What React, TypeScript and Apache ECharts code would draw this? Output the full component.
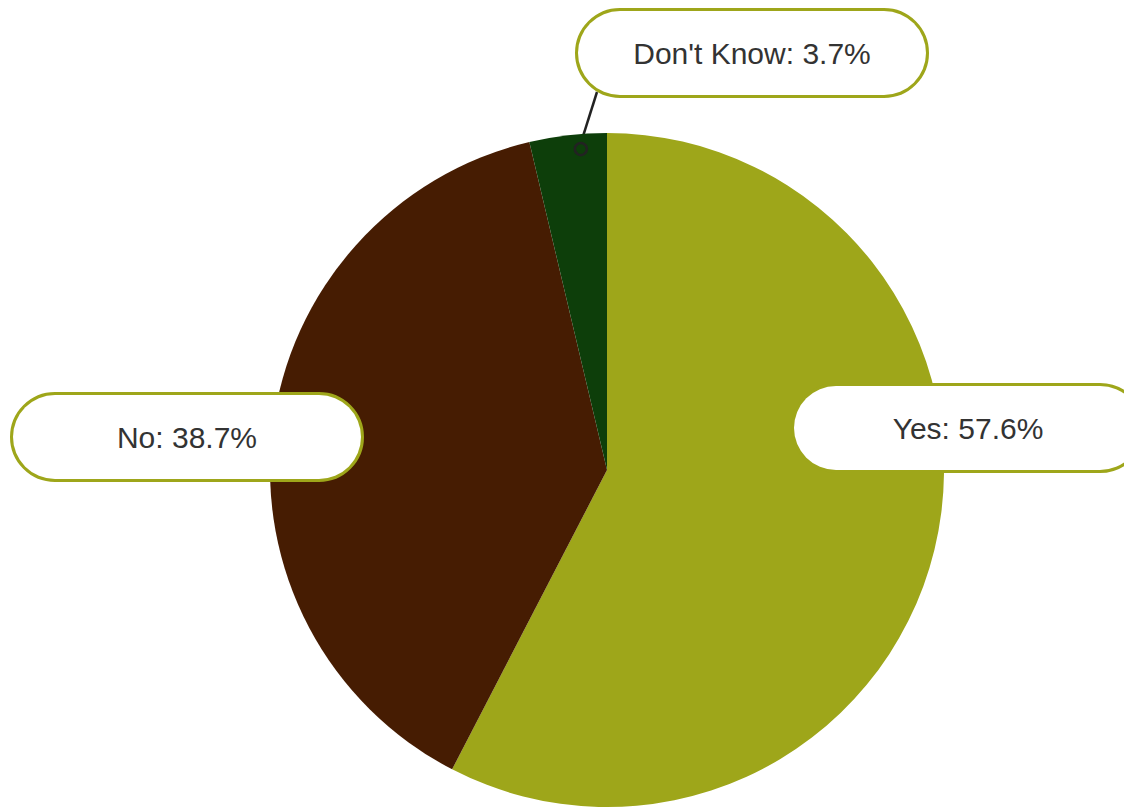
import React, { useEffect, useRef } from "react";
import * as echarts from "echarts";

const categories = ["Yes", "No", "Don't Know"];
const values = [57.6, 38.7, 3.7];
const colors = ["#9ea61a", "#461c02", "#0d3e0a"];

const CENTER = [607, 470];
const RADIUS = 337;
const labelCenters = [
  [968, 428],
  [187, 437],
  [752, 53],
];
const lineEnd = [597, 92];

export default function App() {
  const ref = useRef<HTMLDivElement>(null);
  useEffect(() => {
    document.body.style.margin = "0";
    if (!ref.current) return;
    const chart = echarts.init(ref.current, undefined, { renderer: "svg" });

    const total = values.reduce((a, b) => a + b, 0);
    const startFrac = (values[0] + values[1]) / total;
    const endFrac = 1;
    const frac = startFrac + (endFrac - startFrac) * 0.65;
    const ang = ((90 - frac * 360) * Math.PI) / 180;
    const rA = RADIUS - 15;
    const ax = CENTER[0] + rA * Math.cos(ang);
    const ay = CENTER[1] - rA * Math.sin(ang);

    chart.setOption({
      animation: false,
      backgroundColor: "#ffffff",
      graphic: [
        {
          type: "circle",
          z: 100,
          zlevel: 1,
          shape: { cx: ax, cy: ay, r: 6 },
          style: { fill: "#0d3e0a", stroke: "#222222", lineWidth: 2.5 },
        },
      ],
      series: [
        {
          type: "pie",
          center: CENTER,
          radius: RADIUS,
          startAngle: 90,
          clockwise: true,
          avoidLabelOverlap: false,
          itemStyle: { borderWidth: 0 },
          label: {
            show: true,
            position: "outside",
            formatter: "{b}: {c}%",
            fontFamily: "Liberation Sans",
            fontSize: 30,
            lineHeight: 32,
            color: "#333333",
            backgroundColor: "#ffffff",
            borderColor: "#9ea61a",
            borderWidth: 3,
            borderRadius: 43,
            padding: [26, 0],
            width: 348,
            align: "center",
          },
          labelLine: {
            show: true,
            lineStyle: { color: "#222222", width: 2.5 },
          },
          labelLayout: (params: any) => {
            const i = params.dataIndex;
            const c = labelCenters[i];
            const res: any = {
              x: c[0],
              y: c[1],
              align: "center",
              verticalAlign: "middle",
            };
            if (i === 2) {
              res.labelLinePoints = [
                [ax, ay - 6],
                [lineEnd[0], lineEnd[1]],
              ];
            }
            return res;
          },
          data: categories.map((name, i) => ({
            name,
            value: values[i],
            itemStyle: { color: colors[i] },
            labelLine: { show: i === 2 },
          })),
        },
      ],
    });
    return () => chart.dispose();
  }, []);
  return <div ref={ref} style={{ width: 1124, height: 807 }} />;
}
